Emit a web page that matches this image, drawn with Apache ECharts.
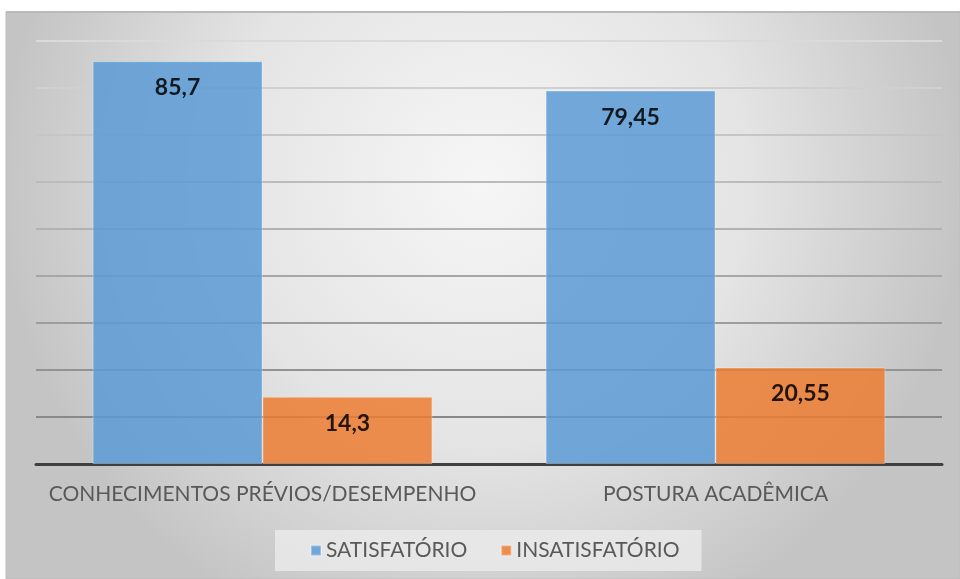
<!DOCTYPE html>
<html>
<head>
<meta charset="utf-8">
<script src="https://cdn.jsdelivr.net/npm/echarts@6/dist/echarts.min.js"></script>
<style>
html, body { margin: 0; padding: 0; background: #fff; }
#main { width: 960px; height: 579px; }
</style>
</head>
<body>
<div id="main"></div>
<script>
var categories = ['CONHECIMENTOS PRÉVIOS/DESEMPENHO', 'POSTURA ACADÊMICA'];
var satisfatorio = [85.7, 79.45];
var insatisfatorio = [14.3, 20.55];
var seriesNames = ['SATISFATÓRIO', 'INSATISFATÓRIO'];

var mainChart = echarts.init(document.getElementById('main'));

function fmt(p) {
	return String(p.value).replace('.', ',');
}

var labelOpt = {
	show: true,
	position: 'insideTop',
	distance: 15,
	formatter: fmt,
	color: '#000',
	fontFamily: 'Lato',
	fontWeight: 'bold',
	fontSize: 23
};

var chartOpt = {
	animation: false,
	graphic: [
		{
			type: 'rect',
			z: -10,
			shape: { x: 6, y: 12, width: 954, height: 567 },
			style: {
				fill: new echarts.graphic.RadialGradient(0.5, 0.3, 0.85, [
					{ offset: 0, color: '#f6f6f6' },
					{ offset: 0.55, color: '#e4e4e4' },
					{ offset: 1, color: '#c4c4c4' }
				]),
				stroke: '#bdbdbd',
				lineWidth: 1
			}
		},
		{
			type: 'rect',
			z: -9,
			shape: { x: 6, y: 11, width: 954, height: 2 },
			style: { fill: '#b9b9b9' }
		}
	],
	legend: {
		data: seriesNames,
		bottom: 8,
		left: 275,
		itemWidth: 10,
		itemHeight: 10,
		itemGap: 33,
		padding: [10, 22, 10, 35],
		backgroundColor: 'rgba(235,235,235,0.8)',
		icon: 'rect',
		textStyle: { color: '#595959', fontFamily: 'Lato', fontSize: 21 }
	},
	grid: { left: 36, right: 18, top: 41, bottom: 115 },
	xAxis: {
		type: 'category',
		data: categories,
		axisTick: { show: false },
		axisLine: { lineStyle: { color: '#404040', width: 3 } },
		axisLabel: { color: '#595959', fontFamily: 'Lato', fontSize: 21, margin: 20, interval: 0 }
	},
	yAxis: {
		type: 'value',
		min: 0,
		max: 90,
		interval: 10,
		axisLabel: { show: false },
		axisLine: { show: false },
		axisTick: { show: false },
		splitLine: {
			lineStyle: {
				width: 2,
				color: new echarts.graphic.LinearGradient(0, 41, 0, 420, [
					{ offset: 0, color: '#dadada' },
					{ offset: 1, color: '#888888' }
				], true)
			}
		}
	},
	series: [
		{
			name: seriesNames[0],
			type: 'bar',
			data: satisfatorio,
			barGap: '0%',
			barCategoryGap: '25%',
			itemStyle: { color: '#5b9bd5', opacity: 0.85, borderColor: 'rgba(255,255,255,0.35)', borderWidth: 1 },
			label: labelOpt
		},
		{
			name: seriesNames[1],
			type: 'bar',
			data: insatisfatorio,
			itemStyle: { color: '#ed7d31', opacity: 0.85, borderColor: 'rgba(255,255,255,0.35)', borderWidth: 1 },
			label: labelOpt
		}
	]
};

mainChart.setOption(chartOpt);
</script>
</body>
</html>
